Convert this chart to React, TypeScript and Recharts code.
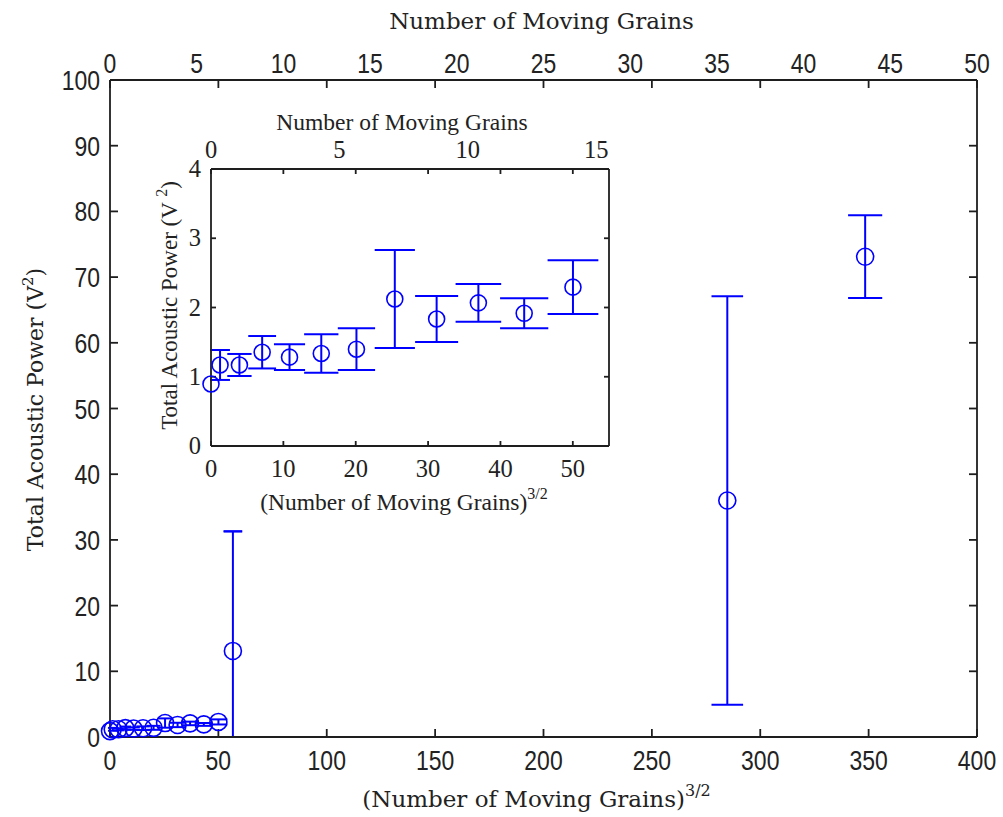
import React from 'react';
import { ScatterChart, Scatter, XAxis, YAxis, ErrorBar, Label } from 'recharts';

// ---- data (x = (number of moving grains)^(3/2), y = total acoustic power, e = error) ----
const smallX = [0, 1.25, 3.93, 7.07, 10.85, 15.24, 20.1, 25.4, 31.18, 36.95, 43.28, 50.02];
const smallY = [0.895, 1.17, 1.17, 1.354, 1.283, 1.336, 1.398, 2.123, 1.834, 2.067, 1.916, 2.294];
const smallErr = [0, 0.216, 0.159, 0.234, 0.186, 0.277, 0.301, 0.708, 0.332, 0.272, 0.217, 0.388];
const largeX = [56.7, 284.8, 348.4];
const largeY = [13.1, 36.0, 73.1];
const largeErr = [18.2, 31.1, 6.3];

// ---- tick labels ----
const mainXTicks = [0, 50, 100, 150, 200, 250, 300, 350, 400];
const mainYTicks = [0, 10, 20, 30, 40, 50, 60, 70, 80, 90, 100];
const mainTopTicks = [0, 5, 10, 15, 20, 25, 30, 35, 40, 45, 50];
const insetXTicks = [0, 10, 20, 30, 40, 50];
const insetYTicks = [0, 1, 2, 3, 4];
const insetTopTicks = [0, 5, 10, 15];

type Pt = { x: number; y: number; e: number };

const insetPoints: Pt[] = smallX.map((x, i) => ({ x, y: smallY[i], e: smallErr[i] }));
const mainPoints: Pt[] = [
  ...insetPoints,
  ...largeX.map((x, i) => ({ x, y: largeY[i], e: largeErr[i] })),
];

// derive error-bar pieces; parts below the axis minimum are clipped like the original
const withBars = (pts: Pt[], yMin: number) =>
  pts.map((p) => {
    const lo = p.y - p.e;
    const clipped = lo < yMin;
    return {
      ...p,
      clipped,
      full: [p.e, p.e],
      stem: [p.y - Math.max(lo, yMin), p.e],
      topCap: [-p.e, p.e],
    };
  });

const BLUE = '#0000ff';
const AXIS = '#1e1e1e';
const TXT = '#222222';

const mainCap = (x: number) => 4 + 0.7 * Math.sqrt(x);
const insetCap = (x: number) => 7 + 2.6 * Math.sqrt(x);

const Ring = (r: number) => (props: any) => (
  <circle cx={props.cx} cy={props.cy} r={r} fill="none" stroke={BLUE} strokeWidth={1.6} />
);
const Nothing = (_props: any) => <g />;

const MainTick = (props: any) => {
  const { x, y, payload, anchor, dy = 0 } = props;
  return (
    <g transform={`translate(${x},${y})`}>
      <text
        x={0}
        y={dy}
        textAnchor={anchor}
        fontFamily="Liberation Sans, Arial, sans-serif"
        fontSize={28}
        fill={TXT}
        transform="scale(0.82,1)"
      >
        {payload.value}
      </text>
    </g>
  );
};

const InsetTick = (props: any) => {
  const { x, y, payload, anchor, dy = 0 } = props;
  return (
    <text
      x={x}
      y={y + dy}
      textAnchor={anchor}
      fontFamily="Liberation Serif, Times New Roman, serif"
      fontSize={24.5}
      fill={TXT}
    >
      {payload.value}
    </text>
  );
};

const HTitle = (props: any) => {
  const { viewBox, dx = 0, dy = 0, text, sup, family, size, supSize, supRise } = props;
  const cx = viewBox.x + viewBox.width / 2 + dx;
  return (
    <text x={cx} y={viewBox.y + dy} textAnchor="middle" fontFamily={family} fontSize={size} fill={TXT}>
      {text}
      {sup ? (
        <tspan fontSize={supSize} dy={-supRise}>
          {sup}
        </tspan>
      ) : null}
    </text>
  );
};

const VTitle = (props: any) => {
  const { viewBox, bx, dy = 0, pre, sup, post, family, size, supSize, supRise } = props;
  const x = viewBox.x + bx;
  const y = viewBox.y + viewBox.height / 2 + dy;
  return (
    <text
      x={x}
      y={y}
      textAnchor="middle"
      fontFamily={family}
      fontSize={size}
      fill={TXT}
      transform={`rotate(-90, ${x}, ${y})`}
    >
      {pre}
      <tspan fontSize={supSize} dy={-supRise}>
        {sup}
      </tspan>
      <tspan dy={supRise}>{post}</tspan>
    </text>
  );
};

const SERIF_MAIN = 'DejaVu Serif, serif';
const SERIF_INSET = 'Liberation Serif, Times New Roman, serif';

const renderPoints = (pts: Pt[], yMin: number, cap: (x: number) => number, r: number, prefix: string) =>
  withBars(pts, yMin).map((p, i) => (
    <Scatter
      key={`${prefix}${i}`}
      xAxisId="b"
      yAxisId="l"
      data={[p]}
      isAnimationActive={false}
      shape={Ring(r)}
    >
      {p.e > 0 && !p.clipped ? (
        <ErrorBar dataKey="full" direction="y" width={cap(p.x)} stroke={BLUE} strokeWidth={2} />
      ) : null}
      {p.e > 0 && p.clipped ? (
        <ErrorBar dataKey="stem" direction="y" width={0} stroke={BLUE} strokeWidth={2} />
      ) : null}
      {p.e > 0 && p.clipped ? (
        <ErrorBar dataKey="topCap" direction="y" width={cap(p.x)} stroke={BLUE} strokeWidth={2} />
      ) : null}
    </Scatter>
  ));

function MainChart() {
  return (
    <ScatterChart width={1003} height={817} margin={{ top: 39, right: 25, bottom: 0, left: 0 }}>
      {/* mirrored ticks (box) */}
      <XAxis
        xAxisId="tBox"
        orientation="top"
        type="number"
        dataKey="x"
        domain={[0, 400]}
        ticks={mainXTicks}
        allowDataOverflow
        height={1}
        tick={<Nothing />}
        tickSize={-8}
        stroke={AXIS}
        strokeWidth={1.8}
      />
      <XAxis
        xAxisId="tLab"
        orientation="top"
        type="number"
        dataKey="x"
        domain={[0, 50]}
        ticks={mainTopTicks}
        allowDataOverflow
        height={40}
        axisLine={false}
        tickLine={false}
        tickSize={0}
        tickMargin={6}
        tick={<MainTick anchor="middle" />}
      >
        <Label
          content={(p: any) => (
            <HTitle {...p} dx={-2} dy={-10} text="Number of Moving Grains" family={SERIF_MAIN} size={23} />
          )}
        />
      </XAxis>
      <XAxis
        xAxisId="b"
        type="number"
        dataKey="x"
        domain={[0, 400]}
        ticks={mainXTicks}
        height={80}
        tickSize={-8}
        tickMargin={41}
        stroke={AXIS}
        strokeWidth={1.8}
        tick={<MainTick anchor="middle" />}
      >
        <Label
          content={(p: any) => (
            <HTitle
              {...p}
              dx={-7}
              dy={70}
              text="(Number of Moving Grains)"
              sup="3/2"
              family={SERIF_MAIN}
              size={23}
              supSize={16}
              supRise={11}
            />
          )}
        />
      </XAxis>
      <YAxis
        yAxisId="l"
        type="number"
        dataKey="y"
        domain={[0, 100]}
        ticks={mainYTicks}
        width={110}
        tickSize={-8}
        tickMargin={18}
        stroke={AXIS}
        strokeWidth={1.8}
        tick={<MainTick anchor="end" dy={10} />}
      >
        <Label
          content={(p: any) => (
            <VTitle
              {...p}
              bx={43}
              dy={1}
              pre="Total Acoustic Power (V"
              sup="2"
              post=")"
              family={SERIF_MAIN}
              size={22}
              supSize={15}
              supRise={10}
            />
          )}
        />
      </YAxis>
      <YAxis
        yAxisId="r"
        orientation="right"
        type="number"
        dataKey="y"
        domain={[0, 100]}
        ticks={mainYTicks}
        allowDataOverflow
        width={1}
        tick={<Nothing />}
        tickSize={-8}
        stroke={AXIS}
        strokeWidth={1.8}
      />
      <Scatter xAxisId="tBox" yAxisId="r" data={mainPoints} isAnimationActive={false} shape={Nothing} />
      <Scatter xAxisId="tLab" yAxisId="r" data={mainPoints} isAnimationActive={false} shape={Nothing} />
      {renderPoints(mainPoints, 0, mainCap, 8.5, 'm')}
    </ScatterChart>
  );
}

function InsetChart() {
  return (
    <ScatterChart width={470} height={420} margin={{ top: 28, right: 10, bottom: 0, left: 0 }}>
      <XAxis
        xAxisId="tBox"
        orientation="top"
        type="number"
        dataKey="x"
        domain={[0, 55]}
        ticks={insetXTicks}
        allowDataOverflow
        height={1}
        tick={<Nothing />}
        tickSize={-5}
        stroke={AXIS}
        strokeWidth={1.8}
      />
      <XAxis
        xAxisId="tLab"
        orientation="top"
        type="number"
        dataKey="x"
        domain={[0, 15.5]}
        ticks={insetTopTicks}
        allowDataOverflow
        height={40}
        axisLine={false}
        tickLine={false}
        tickSize={0}
        tickMargin={10}
        tick={<InsetTick anchor="middle" />}
      >
        <Label
          content={(p: any) => (
            <HTitle {...p} dx={-8} dy={2} text="Number of Moving Grains" family={SERIF_INSET} size={23.5} />
          )}
        />
      </XAxis>
      <XAxis
        xAxisId="b"
        type="number"
        dataKey="x"
        domain={[0, 55]}
        ticks={insetXTicks}
        height={74}
        tickSize={-5}
        tickMargin={36}
        stroke={AXIS}
        strokeWidth={1.8}
        tick={<InsetTick anchor="middle" />}
      >
        <Label
          content={(p: any) => (
            <HTitle
              {...p}
              dx={-6}
              dy={64}
              text="(Number of Moving Grains)"
              sup="3/2"
              family={SERIF_INSET}
              size={23.5}
              supSize={16}
              supRise={11}
            />
          )}
        />
      </XAxis>
      <YAxis
        yAxisId="l"
        type="number"
        dataKey="y"
        domain={[0, 4]}
        ticks={insetYTicks}
        width={61}
        tickSize={-5}
        tickMargin={15}
        stroke={AXIS}
        strokeWidth={1.8}
        tick={<InsetTick anchor="end" dy={8} />}
      >
        <Label
          content={(p: any) => (
            <VTitle
              {...p}
              bx={27}
              dy={-2}
              pre="Total Acoustic Power (V "
              sup="2"
              post=")"
              family={SERIF_INSET}
              size={23}
              supSize={16}
              supRise={10}
            />
          )}
        />
      </YAxis>
      <YAxis
        yAxisId="r"
        orientation="right"
        type="number"
        dataKey="y"
        domain={[0, 4]}
        ticks={insetYTicks}
        allowDataOverflow
        width={1}
        tick={<Nothing />}
        tickSize={-5}
        stroke={AXIS}
        strokeWidth={1.8}
      />
      <Scatter xAxisId="tBox" yAxisId="r" data={insetPoints} isAnimationActive={false} shape={Nothing} />
      <Scatter xAxisId="tLab" yAxisId="r" data={insetPoints} isAnimationActive={false} shape={Nothing} />
      {renderPoints(insetPoints, 0, insetCap, 8, 's')}
    </ScatterChart>
  );
}

export default function App() {
  return (
    <div style={{ position: 'absolute', left: 0, top: 0, width: 1003, height: 817, background: '#fff' }}>
      <div style={{ position: 'absolute', left: 0, top: 0 }}>
        <MainChart />
      </div>
      <div style={{ position: 'absolute', left: 150, top: 100 }}>
        <InsetChart />
      </div>
    </div>
  );
}
